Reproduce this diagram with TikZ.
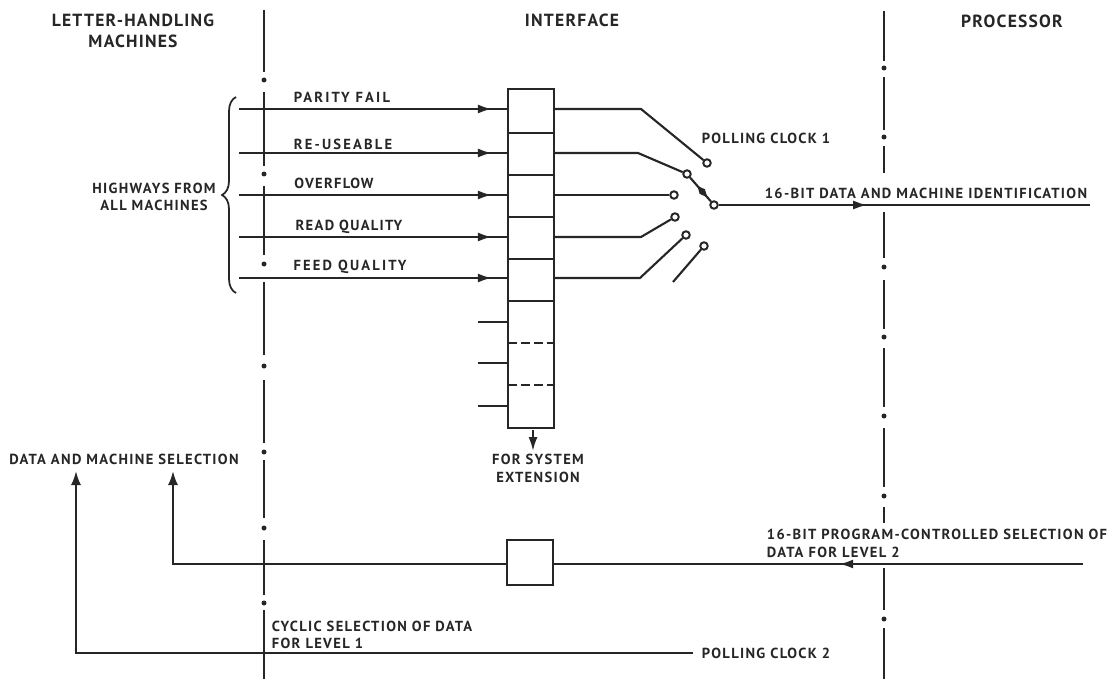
\documentclass[tikz,border=0pt]{standalone}
\usepackage{fontspec}
\setmainfont{PT Sans}
\newfontfamily\tagfont[LetterSpace=9]{PT Sans Bold}
\newfontfamily\widefont[LetterSpace=15]{PT Sans Bold}
\newfontfamily\headfont[LetterSpace=7]{PT Sans Bold}
\usetikzlibrary{arrows.meta,positioning,decorations.markings,decorations.pathreplacing}

\begin{document}
\begin{tikzpicture}[
    x=0.02cm,
    y=-0.02cm,
    node distance=0pt,
    ink/.style={black!85},
    wire/.style={ink, line width=1.2pt},
    chainline/.style={ink, line width=1.4pt},
    chaindot/.style={circle, fill=black!85, inner sep=0pt, minimum size=0.1cm},
    slot/.style={
        rectangle,
        draw=black!85,
        line width=1.3pt,
        outer sep=0pt,
        minimum width=0.92cm,
        minimum height=0.84cm
    },
    contact/.style={
        circle,
        draw=black!85,
        fill=white,
        line width=1.1pt,
        inner sep=0pt,
        minimum size=0.15cm
    },
    tag/.style={
        inner sep=0pt,
        align=center,
        text=black!85,
        font=\tagfont\fontsize{8.3}{10}\selectfont
    },
    widetag/.style={
        tag,
        font=\widefont\fontsize{8.3}{10}\selectfont
    },
    head/.style={
        inner sep=0pt,
        align=center,
        text=black!85,
        font=\headfont\fontsize{10}{11.8}\selectfont
    },
    flow/.style={
        postaction={decorate},
        decoration={markings, mark=at position #1 with {\arrow{Latex[length=2.8mm, width=1.8mm]}}}
    },
    lozenge/.style={
        postaction={decorate},
        decoration={markings, mark=at position #1 with {\arrow{Diamond[length=3mm, width=1.4mm]}}}
    },
    arrow/.style={wire, -{Latex[length=2.8mm, width=2mm]}}
]
\useasboundingbox (0,0) rectangle (1116,679);

% boundary lines
\foreach \a/\b in {10/72,92/166,186/255,282/355,380/443,460/518,540/595,610/679}{
    \draw[chainline] (264,\a) -- (264,\b);
}
\foreach \d in {80,174,264,366,452,528,603}{
    \node[chaindot] (leftdot\d) at (264,\d) {};
}
\foreach \a/\b in {11/61,77/130,146/173,212/258,280/329,348/407,428/487,507/523,568/610,628/679}{
    \draw[chainline] (884,\a) -- (884,\b);
}
\foreach \d in {68,137,267,337,416,496,619}{
    \node[chaindot] (rightdot\d) at (884,\d) {};
}

% headings
\node[head] (machines) at (133,31) {LETTER-HANDLING\\MACHINES};
\node[head] (interface) at (572,20) {INTERFACE};
\node[head] (processor) at (1012,21) {PROCESSOR};

% register
\node[slot, minimum height=0.88cm] (slot1) at (531,111) {};
\node[slot, below=of slot1] (slot2) {};
\node[slot, below=of slot2] (slot3) {};
\node[slot, below=of slot3] (slot4) {};
\node[slot, below=of slot4] (slot5) {};
\node[slot, below=of slot5, minimum height=2.54cm] (spare) {};
\coordinate (dash1) at (508,343);
\coordinate (dash2) at (508,385);
\draw[wire, dash pattern=on 5pt off 2.4pt] (dash1) -- (dash1 -| spare.east);
\draw[wire, dash pattern=on 5pt off 2.4pt] (dash2) -- (dash2 -| spare.east);

% highways
\coordinate (in1) at (239,109);
\coordinate (in2) at (239,153);
\coordinate (in3) at (239,195);
\coordinate (in4) at (239,237);
\coordinate (in5) at (239,278);
\foreach \n in {1,2,3,4,5}{
    \draw[wire, flow=0.94] (in\n) -- (in\n -| slot\n.west);
}
\node[widetag] (parity) at (342,97) {PARITY FAIL};
\node[widetag] (reuse) at (343,144) {RE-USEABLE};
\node[tag] (over) at (334,183) {OVERFLOW};
\node[tag] (read) at (349,227) {READ QUALITY};
\node[widetag] (feed) at (350,267) {FEED QUALITY};

\coordinate (brtop) at (236,97);
\coordinate (brbot) at (236,293);
\draw[wire, line width=1pt, decorate, decoration={brace, amplitude=0.28cm}] (brbot) -- (brtop);
\node[tag] (highways) at (154,197) {HIGHWAYS FROM\\ALL MACHINES};

% spare inputs
\coordinate (st1) at (478,322);
\coordinate (st2) at (478,363);
\coordinate (st3) at (478,406);
\foreach \n in {1,2,3}{
    \draw[wire] (st\n) -- (st\n -| spare.west);
}

% selector
\node[contact] (c1) at (707,163) {};
\node[contact] (c2) at (687,174) {};
\node[contact] (c3) at (674,195) {};
\node[contact] (c4) at (675,217) {};
\node[contact] (c5) at (686,235) {};
\node[contact] (c6) at (704,246) {};
\node[contact] (pivot) at (714,205) {};
\coordinate (k1) at (641,109);
\coordinate (k2) at (638,153);
\coordinate (k4) at (641,237);
\coordinate (k5) at (640,278);
\coordinate (free) at (673,282);
\coordinate (dataout) at (1090,205);
\draw[wire] (in1 -| slot1.east) -- (k1) -- (c1);
\draw[wire] (in2 -| slot2.east) -- (k2) -- (c2);
\draw[wire] (in3 -| slot3.east) -- (c3);
\draw[wire] (in4 -| slot4.east) -- (k4) -- (c4);
\draw[wire] (in5 -| slot5.east) -- (k5) -- (c5);
\draw[wire] (free) -- (c6);
\draw[wire, lozenge=0.65] (pivot) -- (c2);
\draw[wire, flow=0.4] (pivot) -- (dataout);
\node[tag] (clock1) at (766,138) {POLLING CLOCK 1};
\node[tag] (dataid) at (926,193) {16-BIT DATA AND MACHINE IDENTIFICATION};

% extension
\coordinate (extend) at (533,430);
\draw[wire, -{Latex[length=2.8mm, width=1.8mm]}] (extend) -- (533,451);
\node[tag] (system) at (538,468.5) {FOR SYSTEM\\EXTENSION};

% selection paths
\node[slot, minimum height=0.9cm] (gate) at (530,562.5) {};
\node[tag] (select) at (124,459) {DATA AND MACHINE SELECTION};
\coordinate (progin) at (1083,564);
\coordinate (gateout) at (173,564);
\coordinate (clock2in) at (693,653);
\coordinate (clock2out) at (76,653);
\draw[wire, flow=0.46] (progin) -- (gate.east |- progin);
\draw[arrow] (gate.west |- gateout) -- (gateout) -- (173,471);
\draw[arrow] (clock2in) -- (clock2out) -- (76,471);
\node[tag, align=left] (progdata) at (937,543.5) {16-BIT PROGRAM-CONTROLLED SELECTION OF\\DATA FOR LEVEL 2};
\node[tag, align=left] (cyclic) at (372,635) {CYCLIC SELECTION OF DATA\\FOR LEVEL 1};
\node[tag] (clock2) at (766,653) {POLLING CLOCK 2};

\end{tikzpicture}
\end{document}
